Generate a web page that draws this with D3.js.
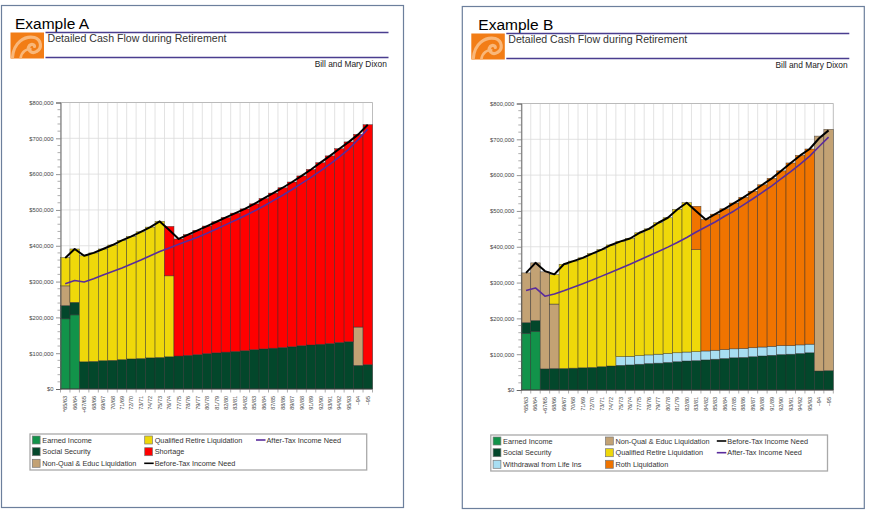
<!DOCTYPE html>
<html><head><meta charset="utf-8">
<script src="https://cdn.jsdelivr.net/npm/d3@7"></script>
<style>
body{margin:0;background:#fff}
svg{display:block;font-family:"Liberation Sans",Arial,Helvetica,sans-serif}
</style>
</head><body>
<svg id="c" width="871" height="510"></svg>
<script>
// ---------- DATA (values in $ thousands) ----------
const ages = ["*65/63","66/64","+67/65","68/66","69/67","70/68","71/69","72/70","73/71","74/72","75/73","76/74","77/75","78/76","79/77","80/78","81/79","82/80","83/81","84/82","85/83","86/84","87/85","88/86","89/87","90/88","91/89","92/90","93/91","94/92","95/93","~94","~95"];
const yTicks = [0,100,200,300,400,500,600,700,800];

// Example A
const aEarned   = [196,207,0,0,0,0,0,0,0,0,0,0,0,0,0,0,0,0,0,0,0,0,0,0,0,0,0,0,0,0,0,0,0];
const aSocial   = [37,35,76,77,79,80,82,84,85,87,88,90,92,94,96,99,101,103,105,107,110,112,114,116,118,121,123,125,127,130,132,66,68];
const aNonQual  = [55,0,0,0,0,0,0,0,0,0,0,0,0,0,0,0,0,0,0,0,0,0,0,0,0,0,0,0,0,0,0,107,0];
const aQualRet  = [79,149,296,303,312,322,333,342,354,365,380,226,0,0,0,0,0,0,0,0,0,0,0,0,0,0,0,0,0,0,0,0,0];
const aShortage = [0,0,0,0,0,0,0,0,0,0,0,138,327,337,347,356,366,376,386,396,407,420,433,446,460,474,490,507,524,541,558,538,670];
const aBeforeTax= [366,391,372,380,391,402,415,426,439,452,468,444,419,431,443,455,467,479,491,503,517,532,547,562,578,595,613,632,651,671,690,711,738];
const aAfterTax = [294,303,299,308,318,328,338,349,360,372,384,394,404,414,424,435,447,459,471,484,497,511,526,541,557,574,591,609,628,648,670,697,726];

// Example B
const bEarned   = [158,164,0,0,0,0,0,0,0,0,0,0,0,0,0,0,0,0,0,0,0,0,0,0,0,0,0,0,0,0,0,0,0];
const bSocial   = [30,30,59,60,60,61,62,63,65,67,69,70,72,74,75,77,79,81,82,84,86,88,90,91,93,95,97,99,100,102,104,53,54];
const bLifeIns  = [0,0,0,0,0,0,0,0,0,0,24,24,24,24,25,25,25,25,25,25,25,25,25,25,25,25,25,25,24,24,24,0,0];
const bNonQual  = [139,161,271,180,0,0,0,0,0,0,0,0,0,0,0,0,0,0,0,0,0,0,0,0,0,0,0,0,0,0,0,656,674];
const bQualRet  = [0,0,0,82,291,299,307,318,327,338,322,329,343,352,367,379,400,417,285,0,0,0,0,0,0,0,0,0,0,0,0,0,0];
const bRoth     = [0,0,0,0,0,0,0,0,0,0,0,0,0,0,0,0,0,0,121,367,380,393,407,422,437,453,469,488,510,529,545,0,0];
const bBeforeTax= [327,355,332,323,351,360,369,381,392,405,415,423,439,450,467,481,504,523,499,476,491,506,522,538,555,573,591,612,634,655,673,703,725];
const bAfterTax = [278,285,262,268,277,287,297,307,318,329,340,351,363,375,387,399,412,426,441,455,469,485,500,517,534,552,570,590,610,631,653,680,706];

// ---------- STYLE ----------
const C = {
  earned:"#12934a", social:"#03472b", nonqual:"#c3a274", qual:"#efd80a",
  shortage:"#ff0000", life:"#a8def2", roth:"#f07400",
  before:"#000000", after:"#5a2c9c", rule:"#4a3d8f", border:"#6c7f9c"
};

const svg = d3.select("#c");

function drawPanel(P) {
  const dx = P.dx, dy = P.dy;
  const g = svg.append("g").attr("transform", `translate(${dx},${dy})`);

  // panel border
  g.append("rect").attr("x",1.5).attr("y",5.5).attr("width",402).attr("height",502)
    .attr("fill","#fff").attr("stroke",C.border).attr("stroke-width",1.2);

  // header
  g.append("text").attr("x",P.titleX).attr("y",28.6).attr("font-size",15.5).attr("fill","#000").text(P.title);
  [32.5,57.5].forEach(yy => g.append("line").attr("x1",45.5).attr("x2",388.5).attr("y1",yy).attr("y2",yy)
      .attr("stroke",C.rule).attr("stroke-width",1.6));
  // logo
  const lg = g.append("g").attr("transform","translate(10.5,32.5)");
  lg.append("rect").attr("width",33.5).attr("height",26).attr("fill","#f27d16");
  lg.append("path").attr("d","M2,25 C3,10 14,3 24,5 C31,7 32,16 26,19 C21,22 16,17 19,13 C21,11 24,12 24,14")
    .attr("fill","none").attr("stroke","#f9b779").attr("stroke-width",3.2).attr("stroke-linecap","round");
  lg.append("path").attr("d","M10,26 C11,19 16,16 21,17")
    .attr("fill","none").attr("stroke","#f9b779").attr("stroke-width",2.6);
  g.append("text").attr("x",47.5).attr("y",42.2).attr("font-size",10.6).attr("fill","#333").text("Detailed Cash Flow during Retirement");
  g.append("text").attr("x",386.8).attr("y",67.3).attr("font-size",8.4).attr("fill","#222").attr("text-anchor","end").text("Bill and Mary Dixon");

  // scales
  const left = 60.5, right = 372.5, top = 102.5, bottom = 389;
  const x = d3.scaleBand().domain(ages).range([left,right]).padding(0);
  const y = d3.scaleLinear().domain([0,800]).range([bottom,top]);

  // grid
  const grid = g.append("g");
  yTicks.forEach(t => grid.append("line").attr("x1",left).attr("x2",right).attr("y1",y(t)).attr("y2",y(t))
     .attr("stroke","#dcdcdc").attr("stroke-width",0.8));
  ages.forEach(a => grid.append("line").attr("x1",x(a)).attr("x2",x(a)).attr("y1",top).attr("y2",bottom)
     .attr("stroke","#dcdcdc").attr("stroke-width",0.8));
  grid.append("line").attr("x1",left).attr("x2",right).attr("y1",top).attr("y2",top).attr("stroke","#b5b5b5").attr("stroke-width",0.9);
  grid.append("line").attr("x1",right).attr("x2",right).attr("y1",top).attr("y2",bottom).attr("stroke","#b5b5b5").attr("stroke-width",0.9);

  // stacked bars
  const table = ages.map((a,i) => { const o = {age:a}; P.series.forEach(s => o[s.key] = s.values[i]); return o; });
  const stack = d3.stack().keys(P.series.map(s => s.key))(table);
  const colorOf = Object.fromEntries(P.series.map(s => [s.key, s.color]));
  g.append("g").selectAll("g").data(stack).join("g").attr("fill", d => colorOf[d.key])
    .selectAll("rect").data(d => d.filter(p => p[1] - p[0] > 0)).join("rect")
      .attr("x", d => x(d.data.age)).attr("width", x.bandwidth())
      .attr("y", d => y(d[1])).attr("height", d => y(d[0]) - y(d[1]))
      .attr("stroke","#2a2a2a").attr("stroke-width",0.55).attr("stroke-opacity",0.75);

  // lines
  const line = d3.line().x((d,i) => x(ages[i]) + x.bandwidth()/2).y(d => y(d));
  g.append("path").datum(P.before).attr("d", line).attr("fill","none").attr("stroke",C.before).attr("stroke-width",2).attr("stroke-linejoin","round");
  g.append("path").datum(P.after).attr("d", line).attr("fill","none").attr("stroke",C.after).attr("stroke-width",1.6).attr("stroke-linejoin","round");

  // y axis
  const ya = g.append("g").attr("transform",`translate(${left},0)`)
    .call(d3.axisLeft(y).tickValues(yTicks).tickSize(4.5).tickFormat(d => "$" + d3.format(",")(d*1000)));
  ya.select(".domain").attr("stroke","#555").attr("stroke-width",0.9);
  ya.selectAll(".tick line").attr("stroke","#666").attr("stroke-width",0.7);
  ya.selectAll(".tick text").attr("font-size",5.8).attr("fill","#444").attr("x",-7).attr("font-family","Liberation Sans, Arial, sans-serif");
  const minor = d3.range(0,801,20).filter(v => v % 100 !== 0);
  g.append("g").selectAll("line").data(minor).join("line")
    .attr("x1",left-3).attr("x2",left).attr("y1",d=>y(d)).attr("y2",d=>y(d)).attr("stroke","#777").attr("stroke-width",0.6);

  // x axis
  g.append("line").attr("x1",left).attr("x2",right).attr("y1",bottom).attr("y2",bottom).attr("stroke","#444").attr("stroke-width",0.9);
  const edges = ages.map(a => x(a)).concat([right]);
  g.append("g").selectAll("line").data(edges).join("line")
    .attr("x1",d=>d).attr("x2",d=>d).attr("y1",bottom).attr("y2",bottom+3.5).attr("stroke","#777").attr("stroke-width",0.6);
  g.append("g").selectAll("text").data(ages).join("text")
    .attr("transform", a => `translate(${x(a)+x.bandwidth()/2+2},${bottom+7}) rotate(-90)`)
    .attr("text-anchor","end").attr("font-size",5.5).attr("fill","#444").text(a => a);

  // legend
  g.append("rect").attr("x",30).attr("y",434).attr("width",336.7).attr("height",36)
    .attr("fill","#fff").attr("stroke","#a9a9a9").attr("stroke-width",1.3);
  const rowsY = [440,451.7,463.3];
  const colX = [32.3,144.7,256];
  P.legend.forEach(it => {
    const cx = colX[it.col] + (it.type === "line" && it.col === 1 ? -0.5 : 0);
    const cy = rowsY[it.row];
    if (it.type === "box") {
      g.append("rect").attr("x",cx).attr("y",cy-4).attr("width",7.8).attr("height",8)
        .attr("fill",it.color).attr("stroke","#777").attr("stroke-width",0.7);
      g.append("text").attr("x",cx+10).attr("y",cy+2.5).attr("font-size",7.3).attr("fill","#333").text(it.name);
    } else {
      g.append("line").attr("x1",cx).attr("x2",cx+9.5).attr("y1",cy).attr("y2",cy)
        .attr("stroke",it.color).attr("stroke-width",1.6);
      g.append("text").attr("x",cx+10.5).attr("y",cy+2.5).attr("font-size",7.3).attr("fill","#333").text(it.name);
    }
  });
}

drawPanel({
  dx:0, dy:0, title:"Example A", titleX:15,
  series:[
    {key:"earned", color:C.earned, values:aEarned},
    {key:"social", color:C.social, values:aSocial},
    {key:"nonqual", color:C.nonqual, values:aNonQual},
    {key:"qual", color:C.qual, values:aQualRet},
    {key:"shortage", color:C.shortage, values:aShortage}
  ],
  before:aBeforeTax, after:aAfterTax,
  legend:[
    {col:0,row:0,type:"box",name:"Earned Income",color:C.earned},
    {col:0,row:1,type:"box",name:"Social Security",color:C.social},
    {col:0,row:2,type:"box",name:"Non-Qual & Educ Liquidation",color:C.nonqual},
    {col:1,row:0,type:"box",name:"Qualified Retire Liquidation",color:C.qual},
    {col:1,row:1,type:"box",name:"Shortage",color:C.shortage},
    {col:1,row:2,type:"line",name:"Before-Tax Income Need",color:C.before},
    {col:2,row:0,type:"line",name:"After-Tax Income Need",color:C.after}
  ]
});

drawPanel({
  dx:460.8, dy:1, title:"Example B", titleX:17.5,
  series:[
    {key:"earned", color:C.earned, values:bEarned},
    {key:"social", color:C.social, values:bSocial},
    {key:"life", color:C.life, values:bLifeIns},
    {key:"nonqual", color:C.nonqual, values:bNonQual},
    {key:"qual", color:C.qual, values:bQualRet},
    {key:"roth", color:C.roth, values:bRoth}
  ],
  before:bBeforeTax, after:bAfterTax,
  legend:[
    {col:0,row:0,type:"box",name:"Earned Income",color:C.earned},
    {col:0,row:1,type:"box",name:"Social Security",color:C.social},
    {col:0,row:2,type:"box",name:"Withdrawal from Life Ins",color:C.life},
    {col:1,row:0,type:"box",name:"Non-Qual & Educ Liquidation",color:C.nonqual},
    {col:1,row:1,type:"box",name:"Qualified Retire Liquidation",color:C.qual},
    {col:1,row:2,type:"box",name:"Roth Liquidation",color:C.roth},
    {col:2,row:0,type:"line",name:"Before-Tax Income Need",color:C.before},
    {col:2,row:1,type:"line",name:"After-Tax Income Need",color:C.after}
  ]
});
</script>
</body></html>
